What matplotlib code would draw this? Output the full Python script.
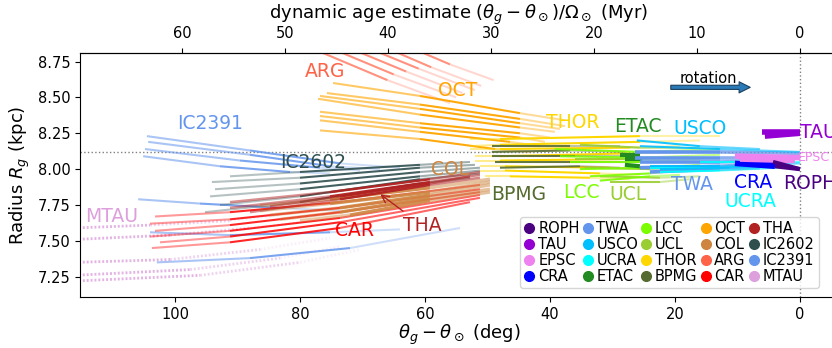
import matplotlib
matplotlib.use("Agg")
import matplotlib.pyplot as plt
from matplotlib.lines import Line2D

# ---- data: traced-back tracks, x = theta_g - theta_sun (deg), r = R_g (kpc) ----
roph_x = [[4.3, 0.0], [4.0, 0.0]]
roph_r = [[8.05, 8.00], [8.02, 8.00]]
tau_x = [[6.1, 0.0], [5.6, 0.0]]
tau_r = [[8.26, 8.26], [8.23, 8.25]]
epsc_x = [[10.4, 0.0], [9.6, 0.8]]
epsc_r = [[8.09, 8.08], [8.07, 8.06]]
cra_x = [[9.6, 3.2], [10.4, 4.0]]
cra_r = [[8.05, 8.03], [8.04, 8.02]]
twa_x = [[26.4, 12.8, 0.0], [26.4, 12.8, 0.8], [25.6, 12.8, 2.4], [25.6, 12.8, 4.0], [24.0, 12.8, 6.4]]
twa_r = [[8.12, 8.12, 8.11], [8.08, 8.08, 8.08], [8.05, 8.05, 8.06], [8.01, 8.02, 8.04], [7.98, 8.00, 8.01]]
usco_x = [[26.1, 16.0, 6.4], [25.6, 12.8, 0.0], [24.0, 12.8, 0.0], [22.4, 11.2, 1.6]]
usco_r = [[8.20, 8.16, 8.14], [8.16, 8.14, 8.12], [8.02, 8.02, 8.04], [8.00, 8.01, 8.02]]
ucra_x = [[24.0, 12.8, 1.6], [22.4, 12.8, 3.2], [16.0, 8.0, 0.0]]
ucra_r = [[8.01, 8.01, 8.03], [7.98, 7.99, 8.01], [8.05, 8.05, 8.05]]
etac_x = [[28.8, 25.6], [28.0, 25.3], [28.0, 25.6]]
etac_r = [[8.10, 8.10], [8.07, 8.07], [8.03, 8.02]]
lcc_x = [[39.2, 25.6, 12.8], [38.4, 25.6, 12.8], [36.8, 25.6, 16.0],
         [35.2, 24.0, 16.0], [33.6, 24.0, 17.6], [32.0, 24.0, 19.2]]
lcc_r = [[8.14, 8.12, 8.14], [8.09, 8.08, 8.10], [8.05, 8.05, 8.07],
         [8.00, 8.01, 8.03], [7.95, 7.97, 8.00], [7.92, 7.95, 7.96]]
ucl_x = [[35.2, 25.6, 16.0], [36.0, 25.6, 17.6], [34.4, 24.0, 16.0], [32.0, 22.4, 16.0], [30.4, 22.4, 17.6]]
ucl_r = [[8.17, 8.15, 8.15], [8.07, 8.07, 8.08], [8.01, 8.00, 8.01], [7.95, 7.94, 7.95], [7.91, 7.91, 7.93]]
thor_x = [[52.8, 48.0, 25.6, 12.8], [52.8, 48.0, 25.6, 16.0], [52.8, 48.0, 27.2, 19.2], [52.0, 48.0, 27.2, 20.8],
          [52.0, 48.0, 28.8, 22.4], [51.2, 47.2, 30.4, 24.0], [51.2, 47.2, 32.0, 25.6], [50.4, 46.4, 33.6, 27.2]]
thor_r = [[8.21, 8.21, 8.23, 8.23], [8.16, 8.17, 8.19, 8.20], [8.14, 8.14, 8.15, 8.16], [8.09, 8.09, 8.11, 8.12],
          [8.06, 8.06, 8.07, 8.07], [8.02, 8.02, 8.01, 8.00], [7.99, 7.99, 7.97, 7.96], [7.95, 7.95, 7.94, 7.93]]
bpmg_x = [[49.3, 36.8, 28.8], [49.3, 36.8, 28.0], [49.3, 36.0, 27.2], [48.8, 35.2, 25.6], [48.0, 35.2, 28.8]]
bpmg_r = [[8.16, 8.16, 8.16], [8.12, 8.13, 8.12], [8.09, 8.09, 8.09], [8.05, 8.05, 8.05], [8.01, 8.02, 8.01]]
oct_x = [[74.7, 60.8, 44.8, 37.6], [75.7, 60.8, 44.8, 37.6], [76.8, 60.8, 44.8, 38.4], [77.1, 60.8, 44.8, 39.2],
         [76.8, 60.8, 44.8, 40.0], [76.8, 60.8, 44.8, 40.8], [76.8, 60.8, 46.4, 41.6], [76.8, 60.8, 48.8, 43.2]]
oct_r = [[8.60, 8.51, 8.39, 8.34], [8.53, 8.45, 8.35, 8.30], [8.51, 8.42, 8.32, 8.28], [8.49, 8.38, 8.29, 8.26],
         [8.40, 8.32, 8.25, 8.22], [8.37, 8.29, 8.22, 8.19], [8.34, 8.26, 8.19, 8.16], [8.27, 8.21, 8.14, 8.12]]
col_x = [[86.4, 75.2, 59.2, 49.6], [86.4, 75.2, 59.2, 49.6], [84.8, 73.6, 59.2, 49.6],
         [83.2, 73.6, 59.2, 49.6], [80.0, 72.0, 59.2, 49.6]]
col_r = [[7.745, 7.79, 7.87, 7.93], [7.71, 7.76, 7.84, 7.91], [7.68, 7.73, 7.82, 7.89],
         [7.65, 7.70, 7.80, 7.86], [7.64, 7.68, 7.78, 7.84]]
arg_x = [[78, 66, 56], [76, 65, 55], [73, 63, 54], [70, 61, 52], [67, 59, 51], [63, 56, 49]]
arg_r = [[8.84, 8.62, 8.46], [8.86, 8.66, 8.50], [8.86, 8.68, 8.53],
         [8.86, 8.70, 8.55], [8.86, 8.71, 8.58], [8.86, 8.73, 8.62]]
car_x = [[103.2, 91.2, 73.6, 51.2], [104.0, 91.2, 73.6, 51.2], [103.2, 91.2, 73.6, 51.2],
         [104.0, 91.2, 73.6, 51.2], [102.4, 91.2, 73.6, 51.2], [103.7, 91.2, 73.6, 52.8]]
car_r = [[7.67, 7.70, 7.77, 7.89], [7.62, 7.65, 7.73, 7.86], [7.57, 7.61, 7.70, 7.84],
         [7.53, 7.57, 7.66, 7.82], [7.49, 7.53, 7.63, 7.80], [7.45, 7.49, 7.59, 7.77]]
tha_x = [[91.2, 75.2, 59.2, 51.2], [91.2, 75.2, 59.2, 51.2], [88.0, 73.6, 59.2, 51.2], [84.8, 73.6, 59.2, 52.8]]
tha_r = [[7.77, 7.84, 7.93, 7.98], [7.73, 7.81, 7.91, 7.96], [7.70, 7.79, 7.89, 7.94], [7.74, 7.81, 7.90, 7.95]]
ic2602_x = [[91.2, 80.0, 60.8, 52.8], [94.1, 80.0, 60.8, 52.0], [93.6, 80.0, 60.8, 51.2],
            [94.4, 80.0, 60.8, 51.2], [92.8, 80.0, 60.8, 51.2], [95.2, 80.0, 60.8, 52.8]]
ic2602_r = [[7.95, 7.98, 8.03, 8.05], [7.91, 7.94, 8.01, 8.03], [7.86, 7.90, 7.98, 8.01],
            [7.81, 7.86, 7.95, 7.99], [7.75, 7.81, 7.93, 7.97], [7.70, 7.77, 7.90, 7.94]]
ic2391_x = [[104.5, 88.0, 73.6, 64.0], [104.3, 88.0, 75.2, 67.2], [104.8, 89.6, 76.8, 70.4], [105.1, 92.8, 81.6, 75.2],
            [105.9, 96.0, 83.2, 73.6], [104.0, 91.2, 75.2, 64.0], [102.9, 88.0, 72.0, 54.4]]
ic2391_r = [[8.23, 8.13, 8.04, 8.01], [8.19, 8.10, 8.02, 8.00], [8.14, 8.06, 8.01, 7.99], [8.09, 8.02, 7.98, 7.97],
            [7.79, 7.76, 7.73, 7.71], [7.56, 7.54, 7.56, 7.58], [7.35, 7.38, 7.45, 7.59]]
mtau_x = [[116, 104.0, 91.2, 83.2], [116, 100.8, 88.0, 80.0], [116, 100.8, 86.4, 75.2],
          [116, 97.6, 83.2, 73.6], [116, 96.0, 80.0, 70.4]]
mtau_r = [[7.59, 7.61, 7.64, 7.68], [7.51, 7.54, 7.59, 7.63], [7.35, 7.37, 7.44, 7.52],
          [7.26, 7.30, 7.38, 7.46], [7.22, 7.26, 7.35, 7.44]]

legend_order = ["ROPH", "TAU", "EPSC", "CRA", "TWA", "USCO", "UCRA", "ETAC", "LCC", "UCL",
                "THOR", "BPMG", "OCT", "COL", "ARG", "CAR", "THA", "IC2602", "IC2391", "MTAU"]

R_sun = 8.122
deg_per_myr = 1.648

# ---- styles ----
colors = {"ROPH": "indigo", "TAU": "darkviolet", "EPSC": "violet", "CRA": "blue",
          "TWA": "cornflowerblue", "USCO": "deepskyblue", "UCRA": "cyan", "ETAC": "forestgreen",
          "LCC": "lawngreen", "UCL": "yellowgreen", "THOR": "gold", "BPMG": "darkolivegreen",
          "OCT": "orange", "COL": "peru", "ARG": "tomato", "CAR": "red", "THA": "firebrick",
          "IC2602": "darkslategray", "IC2391": "cornflowerblue", "MTAU": "plum"}

tracks = {"MTAU": (mtau_x, mtau_r), "IC2391": (ic2391_x, ic2391_r), "IC2602": (ic2602_x, ic2602_r),
          "CAR": (car_x, car_r), "COL": (col_x, col_r), "THA": (tha_x, tha_r), "ARG": (arg_x, arg_r),
          "OCT": (oct_x, oct_r), "THOR": (thor_x, thor_r), "BPMG": (bpmg_x, bpmg_r),
          "UCL": (ucl_x, ucl_r), "LCC": (lcc_x, lcc_r), "ETAC": (etac_x, etac_r),
          "TWA": (twa_x, twa_r), "UCRA": (ucra_x, ucra_r), "USCO": (usco_x, usco_r),
          "CRA": (cra_x, cra_r), "EPSC": (epsc_x, epsc_r), "TAU": (tau_x, tau_r), "ROPH": (roph_x, roph_r)}

# alpha per segment (old end -> present end), line width
seg_alpha = {"MTAU": [0.8, 0.45, 0.15], "IC2391": [0.55, 0.85, 0.3], "IC2602": [0.35, 0.9, 0.45],
             "CAR": [0.4, 0.85, 0.6], "COL": [0.45, 0.9, 0.5], "THA": [0.5, 0.95, 0.55],
             "ARG": [0.7, 0.25], "OCT": [0.6, 0.95, 0.4], "THOR": [0.45, 1.0, 0.35],
             "BPMG": [0.9, 0.4], "UCL": [0.9, 0.45], "LCC": [0.9, 0.45], "ETAC": [1.0],
             "TWA": [1.0, 0.75], "UCRA": [0.9, 0.6], "USCO": [0.9, 0.6],
             "CRA": [1.0], "EPSC": [1.0], "TAU": [1.0], "ROPH": [1.0]}
thick = {"ETAC": 3, "TWA": 2.6, "CRA": 4, "EPSC": 4, "TAU": 4, "ROPH": 3, "COL": 2.4,
         "THA": 1.8, "MTAU": 2.0}

fig = plt.figure(figsize=(8.32, 3.48), dpi=100)
ax = fig.add_axes([0.0962, 0.147, 0.911, 0.701])

for z, name in enumerate(tracks):
    xs, rs = tracks[name]
    ls = (0, (0.7, 0.7)) if name == "MTAU" else '-'
    lw = thick.get(name, 1.5)
    for x, r in zip(xs, rs):
        for i in range(len(x) - 1):
            ax.plot(x[i:i + 2], r[i:i + 2], color=colors[name], alpha=seg_alpha[name][i],
                    lw=lw, ls=ls, solid_capstyle='butt', zorder=2 + z * 0.01)

ax.axhline(R_sun, color='gray', ls=':', lw=1, zorder=1)
ax.axvline(0, color='gray', ls=':', lw=1, zorder=1)

# group labels
lab_kw = dict(fontsize=13.5, ha='center', va='center', zorder=5)
ax.text(76.0, 8.68, "ARG", color="tomato", **lab_kw)
ax.text(54.7, 8.55, "OCT", color="orange", **lab_kw)
ax.text(94.4, 8.32, "IC2391", color="cornflowerblue", **lab_kw)
ax.text(77.9, 8.045, "IC2602", color="darkslategray", **lab_kw)
ax.text(36.3, 8.325, "THOR", color="gold", **lab_kw)
ax.text(25.9, 8.30, "ETAC", color="forestgreen", **lab_kw)
ax.text(16.0, 8.28, "USCO", color="deepskyblue", **lab_kw)
ax.text(56.0, 7.996, "COL", color="peru", **lab_kw)
ax.text(45.0, 7.82, "BPMG", color="darkolivegreen", **lab_kw)
ax.text(34.9, 7.836, "LCC", color="lawngreen", **lab_kw)
ax.text(27.5, 7.82, "UCL", color="yellowgreen", **lab_kw)
ax.text(17.3, 7.89, "TWA", color="cornflowerblue", **lab_kw)
ax.text(7.5, 7.905, "CRA", color="blue", **lab_kw)
ax.text(8.0, 7.773, "UCRA", color="cyan", **lab_kw)
ax.text(71.2, 7.57, "CAR", color="red", **lab_kw)
ax.text(110.2, 7.67, "MTAU", color="plum", **lab_kw)
ax.text(0.0, 8.255, "TAU", color="darkviolet", fontsize=13.5, ha='left', va='center', zorder=5)
ax.text(2.7, 7.90, "ROPH", color="indigo", fontsize=13.5, ha='left', va='center', zorder=5)
ax.text(0.3, 8.08, "EPSC", color="violet", fontsize=9, ha='left', va='center', zorder=5)
ax.annotate("THA", xy=(67.5, 7.836), xytext=(60.5, 7.61), color="firebrick", fontsize=13.5,
            ha='center', va='center', zorder=5,
            arrowprops=dict(arrowstyle='->', color='firebrick', lw=1))

# rotation arrow
ax.text(14.7, 8.63, "rotation", fontsize=10.5, ha='center', va='center')
ax.annotate("", xy=(7.5, 8.57), xytext=(21.1, 8.57),
            arrowprops=dict(arrowstyle='simple,head_width=0.8,head_length=0.8,tail_width=0.3',
                            fc='#2a7ab8', ec='#1b3f5e', lw=0.8))

ax.set_xlim(115.2, -6.1)
ax.set_ylim(7.11, 8.81)
ax.set_xticks([100, 80, 60, 40, 20, 0])
ax.set_yticks([7.25, 7.5, 7.75, 8.0, 8.25, 8.5, 8.75])
ax.tick_params(labelsize=10.5)
ax.set_xlabel(r"$\theta_g - \theta_\odot$ (deg)", fontsize=13, labelpad=1)
ax.set_ylabel(r"Radius $R_g$ (kpc)", fontsize=13)

sec = ax.secondary_xaxis('top', functions=(lambda d: d / deg_per_myr, lambda m: m * deg_per_myr))
sec.set_xticks([60, 50, 40, 30, 20, 10, 0])
sec.tick_params(labelsize=10.5, pad=5)
sec.set_xlabel(r"dynamic age estimate $(\theta_g - \theta_\odot)/\Omega_\odot$ (Myr)", fontsize=13,
               labelpad=5)

handles = [Line2D([], [], ls='none', marker='o', ms=7, color=colors[n]) for n in legend_order]
ax.legend(handles, legend_order, ncol=5, loc='lower left', bbox_to_anchor=(520 / 832, 60 / 348),
          bbox_transform=fig.transFigure, borderaxespad=0, fontsize=10.5, handlelength=0.7,
          handletextpad=0.25, columnspacing=0.2, labelspacing=0.05, borderpad=0.3, framealpha=0.8)

fig.savefig("out.png", dpi=100)
